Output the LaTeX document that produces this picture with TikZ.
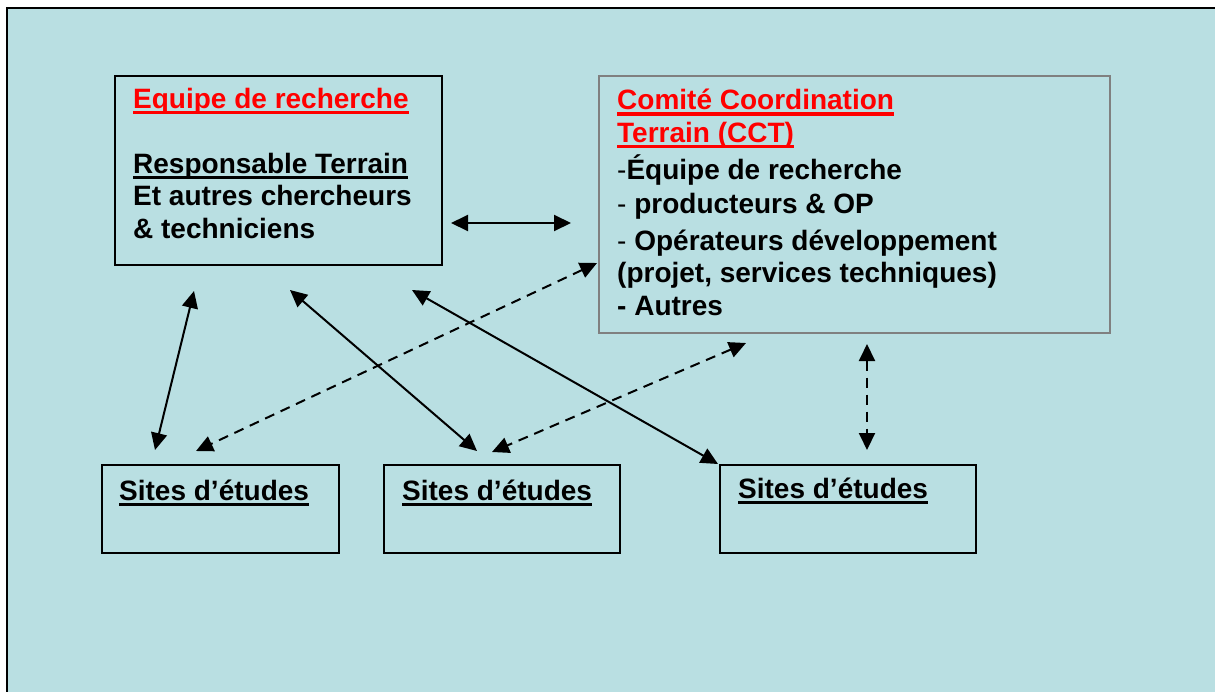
\documentclass[tikz,border=0pt]{standalone}
\usepackage{fontspec}
\setmainfont{Liberation Sans}
\usetikzlibrary{arrows.meta}
\definecolor{panel}{RGB}{185,223,226}
\definecolor{framegray}{RGB}{128,128,128}
\newsavebox{\undlbox}
\newcommand{\undl}[1]{\sbox{\undlbox}{#1}\rlap{\rule[-6pt]{\wd\undlbox}{3.5pt}}\usebox{\undlbox}}
\tikzset{
    box/.style={draw=black, line width=2pt, inner sep=0pt, anchor=north west},
    box text/.style={anchor=base west, inner sep=0pt, align=left,
        font=\fontsize{28}{32.5}\selectfont\bfseries},
    two way/.style={line width=2pt, >={Triangle[length=17pt,width=16pt]}, <->},
    two way dashed/.style={two way, dash pattern=on 10pt off 7pt},
}

\begin{document}
\begin{tikzpicture}[x=1pt,y=-1pt]
\useasboundingbox (0,0) rectangle (1215,691);
\clip (0,0) rectangle (1215,691);
\fill[panel] (7,8) rectangle (1230,710);
\draw[line width=2pt] (7,8) rectangle (1230,710);

\node[box, minimum width=327pt, minimum height=189pt] (equipe) at (114,75) {};
\node[box, draw=framegray, minimum width=511pt, minimum height=257pt] (cct) at (598,75) {};
\node[box, minimum width=237pt, minimum height=88pt] (site1) at (101,464) {};
\node[box, minimum width=236pt, minimum height=88pt] (site2) at (383,464) {};
\node[box, minimum width=256pt, minimum height=88pt] (site3) at (719,464) {};

% multi-line texts sit on the baseline of their last line
\node[box text, red] (equipe title) at (133,108) {\undl{Equipe de recherche}};
\node[box text] (equipe list) at (133,238) {\undl{Responsable Terrain}\\Et autres chercheurs\\\& techniciens};
\node[box text, red] (cct title) at (617,142) {\undl{Comité Coordination}\\\undl{Terrain (CCT)}};
\node[box text] (cct list) at (617,315) {{\mdseries-}Équipe de recherche\\[2pt]{\mdseries-} producteurs \& OP\\[4pt]{\mdseries-} Opérateurs développement\\(projet, services techniques)\\- Autres};
\node[box text] (site1 text) at (119,500) {\undl{Sites d’études}};
\node[box text] (site2 text) at (402,500) {\undl{Sites d’études}};
\node[box text] (site3 text) at (738,498) {\undl{Sites d’études}};

\coordinate (eq east) at (451,223);
\coordinate (cct west) at (571,223);
\coordinate (eq s1) at (194,291);
\coordinate (s1 eq) at (155,450);
\coordinate (eq s2) at (290,290);
\coordinate (s2 eq) at (477,451);
\coordinate (eq s3) at (412,290);
\coordinate (s3 eq) at (718,464);
\coordinate (cct s1) at (597,263);
\coordinate (s1 cct) at (196,451);
\coordinate (cct s2) at (746,343);
\coordinate (s2 cct) at (492,452);
\coordinate (cct s3) at (867,344);
\coordinate (s3 cct) at (867,450);

\draw[two way] (eq east) -- (cct west);
\draw[two way] (eq s1) -- (s1 eq);
\draw[two way] (eq s2) -- (s2 eq);
\draw[two way] (eq s3) -- (s3 eq);
\draw[two way dashed] (cct s1) -- (s1 cct);
\draw[two way dashed] (cct s2) -- (s2 cct);
\draw[two way dashed] (cct s3) -- (s3 cct);
\end{tikzpicture}
\end{document}
